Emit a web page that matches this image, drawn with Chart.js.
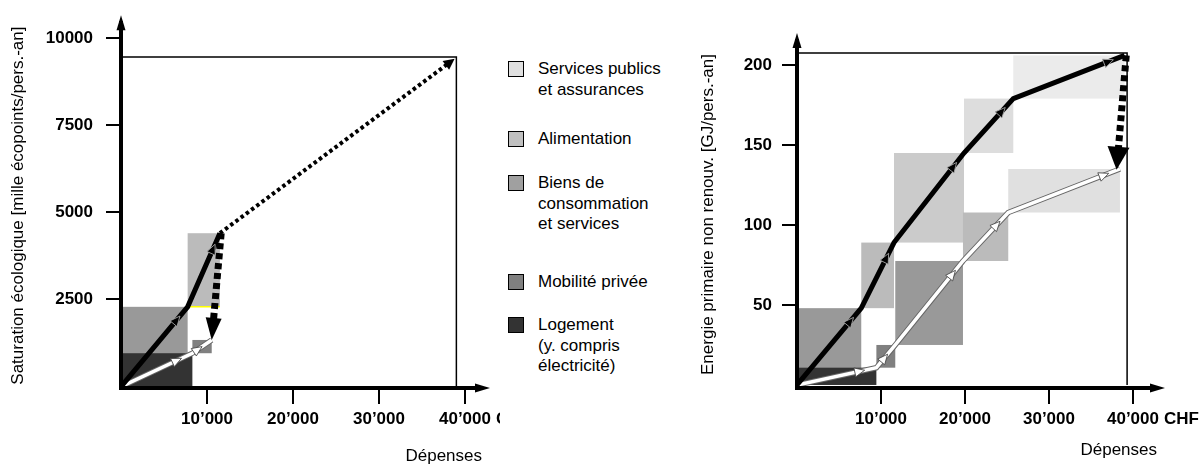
<!DOCTYPE html>
<html>
<head>
<meta charset="utf-8">
<script src="https://cdn.jsdelivr.net/npm/chart.js@4/dist/chart.umd.min.js"></script>
<style>
body { margin: 0; background: #fff; width: 1200px; height: 465px; overflow: hidden; position: relative; font-family: "Liberation Sans", Arial, sans-serif; }
canvas { position: absolute; top: 0; }
#eco-chart { left: 0; }
#energy-chart { left: 690px; }
.key { position: absolute; left: 508px; width: 16px; height: 16px; border: 1.5px solid #000; box-sizing: border-box; }
.key-label { position: absolute; left: 538px; font-size: 17px; line-height: 20.5px; color: #000; white-space: pre-line; }
</style>
</head>
<body>
<canvas id="eco-chart" width="500" height="465"></canvas>
<canvas id="energy-chart" width="510" height="465"></canvas>
<div id="legend"></div>
<script>
// legend categories, top to bottom
const categories = ["Services publics\net assurances", "Alimentation", "Biens de\nconsommation\net services", "Mobilité privée", "Logement\n(y. compris\nélectricité)"];

// shared x axis (Dépenses, CHF)
const spendTicks = [10000, 20000, 30000, 40000];
const spendTickLabels = ["10’000", "20’000", "30’000", "40’000"];

// left chart: saturation écologique
const ecoYTicks = [2500, 5000, 7500, 10000];
const ecoHighX = [0, 7750, 11500];
const ecoHighY = [0, 2290, 4400];
const ecoLowX = [0, 8300, 10550];
const ecoLowY = [0, 960, 1340];
const ecoTrendX = [11500, 38800];
const ecoTrendY = [4400, 9400];
const ecoShiftX = [11650, 10550];
const ecoShiftY = [4400, 1340];
const ecoFrameX = [0, 39000, 39000];
const ecoFrameY = [9450, 9450, 0];

// right chart: énergie primaire non renouvelable
const enYTicks = [50, 100, 150, 200];
const enHighX = [0, 7650, 11550, 19880, 25750, 39000];
const enHighY = [0, 48, 89, 145, 179, 206];
const enLowX = [0, 9450, 11700, 19760, 25150, 38450];
const enLowY = [0, 10.8, 25, 77.5, 107.8, 135];
const enShiftX = [39200, 38050];
const enShiftY = [206, 134.5];
const enFrameX = [0, 39300, 39300];
const enFrameY = [207.5, 207.5, 0];

// styles
const legendShades = ["#e0e0e0", "#c0c0c0", "#a0a0a0", "#808080", "#333333"];
const legendTops = [59, 129, 173, 272, 315];
const ecoHighShades = ["#999999", "#bbbbbb"];
const ecoLowShades = ["#333333", "#808080"];
const enHighShades = ["#999999", "#bbbbbb", "#cbcbcb", "#dddddd", "#ebebeb"];
const enLowShades = ["#333333", "#808080", "#999999", "#bbbbbb", "#e0e0e0"];

Chart.defaults.font.family = '"Liberation Sans", Arial, Helvetica, sans-serif';
Chart.defaults.font.size = 17;
Chart.defaults.color = "#000";

const legend = document.getElementById("legend");
categories.forEach((c, i) => {
    const key = document.createElement("div");
    key.className = "key";
    key.style.top = (legendTops[i] + 2) + "px";
    key.style.background = legendShades[i];
    const label = document.createElement("div");
    label.className = "key-label";
    label.style.top = legendTops[i] + "px";
    label.textContent = c;
    legend.appendChild(key);
    legend.appendChild(label);
});

const pts = (xs, ys) => xs.map((x, i) => ({ x, y: ys[i] }));

function triangle(ctx, x, y, ang, len, half, fill, stroke) {
    ctx.save();
    ctx.translate(x, y);
    ctx.rotate(ang);
    ctx.beginPath();
    ctx.moveTo(0, 0);
    ctx.lineTo(-len, -half);
    ctx.lineTo(-len, half);
    ctx.closePath();
    ctx.fillStyle = fill;
    ctx.fill();
    if (stroke) { ctx.strokeStyle = stroke; ctx.lineWidth = 0.8; ctx.stroke(); }
    ctx.restore();
}

// boxes under each segment, arrowheads, axis arrows, CHF unit
function decor(paths) {
    return {
        id: "decor",
        beforeDatasetsDraw(chart) {
            const { ctx, scales: { x, y } } = chart;
            paths.forEach(p => {
                for (let i = 0; i < p.xs.length - 1; i++) {
                    const x0 = x.getPixelForValue(p.xs[i]), x1 = x.getPixelForValue(p.xs[i + 1]);
                    const y0 = y.getPixelForValue(p.ys[i]), y1 = y.getPixelForValue(p.ys[i + 1]);
                    ctx.fillStyle = p.shades[i];
                    ctx.fillRect(Math.min(x0, x1), Math.min(y0, y1), Math.abs(x1 - x0), Math.abs(y1 - y0));
                }
            });
        },
        beforeDatasetDraw(chart, args) {
            const ds = chart.data.datasets[args.index];
            if (!ds.endArrow) return;
            const d = args.meta.data, a = d[d.length - 2], b = d[d.length - 1];
            const ang = Math.atan2(b.y - a.y, b.x - a.x);
            const { ctx, width, height } = chart;
            ctx.save();
            ctx.beginPath();
            ctx.rect(0, 0, width, height);
            ctx.save();
            ctx.translate(b.x, b.y);
            ctx.rotate(ang);
            ctx.rect(-ds.endArrow.len + 1, -ds.endArrow.half - 6, ds.endArrow.len + 10, 2 * ds.endArrow.half + 12);
            ctx.restore();
            ctx.clip("evenodd");
        },
        afterDatasetDraw(chart, args) {
            const ds = chart.data.datasets[args.index];
            const ctx = chart.ctx, d = args.meta.data;
            if (ds.endArrow) {
                ctx.restore();
                const a = d[d.length - 2], b = d[d.length - 1];
                triangle(ctx, b.x, b.y, Math.atan2(b.y - a.y, b.x - a.x), ds.endArrow.len, ds.endArrow.half, "#000");
            }
            if (ds.midArrows) {
                for (let i = 0; i < d.length - 1; i++) {
                    const a = d[i], b = d[i + 1];
                    const len = Math.hypot(b.x - a.x, b.y - a.y);
                    const ang = Math.atan2(b.y - a.y, b.x - a.x);
                    const t = Math.max(0.5, (len - 12) / len);
                    triangle(ctx, a.x + (b.x - a.x) * t, a.y + (b.y - a.y) * t, ang, 10, 4.5, ds.midArrows.fill, ds.midArrows.stroke);
                }
            }
        },
        afterDraw(chart) {
            const { ctx, chartArea: area, scales: { x } } = chart;
            triangle(ctx, area.left, area.top - 8, -Math.PI / 2, 15, 4.5, "#000");
            triangle(ctx, area.right + 8, area.bottom, 0, 15, 4.5, "#000");
            const tickFont = "bold 17px " + Chart.defaults.font.family;
            ctx.save();
            ctx.font = tickFont;
            ctx.fillStyle = "#000";
            ctx.textBaseline = "middle";
            const last = spendTicks.length - 1;
            const w = ctx.measureText(spendTickLabels[last]).width;
            ctx.fillText("CHF", x.getPixelForValue(spendTicks[last]) + w / 2 + 5, area.bottom + 16 + 5 + 10.2);
            ctx.restore();
        }
    };
}

function makeChart(id, opt) {
    const datasets = [
        { data: pts(opt.lowX, opt.lowY), borderColor: "#fff", borderWidth: 3.5, order: 1, midArrows: { fill: "#fff", stroke: "#444" } },
        { data: pts(opt.lowX, opt.lowY), borderColor: "#666", borderWidth: 5.5, order: 2 },
        { data: pts(opt.highX, opt.highY), borderColor: "#000", borderWidth: 5, order: 0, midArrows: { fill: "#000", stroke: "#aaa" } },
        { data: pts(opt.shiftX, opt.shiftY), borderColor: "#000", borderWidth: 7, borderDash: [6, 4], order: 0, endArrow: opt.shiftArrow },
        { data: pts(opt.frameX, opt.frameY), borderColor: "#000", borderWidth: 1.5, order: 5 }
    ].concat(opt.extra || []);
    return new Chart(document.getElementById(id), {
        type: "scatter",
        data: { datasets: datasets.map(d => Object.assign({ showLine: true, pointRadius: 0, fill: false, tension: 0 }, d)) },
        options: {
            responsive: false,
            animation: false,
            layout: { padding: opt.padding },
            plugins: { legend: { display: false }, tooltip: { enabled: false } },
            scales: {
                x: {
                    type: "linear", min: 0, max: opt.xMax,
                    afterFit: s => { s.height = 77; },
                    afterBuildTicks: s => { s.ticks = spendTicks.map(v => ({ value: v })); },
                    ticks: { autoSkip: false, maxRotation: 0, padding: 5, font: { weight: "bold" }, callback: (v, i) => spendTickLabels[i] },
                    grid: { drawOnChartArea: false, drawTicks: true, tickLength: 16, lineWidth: 2, color: "#000" },
                    border: { display: true, width: 4, color: "#000", z: 1 },
                    title: { display: true, text: "Dépenses", align: "end", font: { lineHeight: 1 }, padding: { top: 0, bottom: opt.titleBottom } }
                },
                y: {
                    type: "linear", min: opt.yMin, max: opt.yMax,
                    afterFit: s => { s.width = opt.yWidth; },
                    afterBuildTicks: s => { s.ticks = opt.yTicks.map(v => ({ value: v })); },
                    ticks: { autoSkip: false, padding: opt.yPad, font: { weight: "bold" }, callback: v => String(v) },
                    grid: { drawOnChartArea: false, drawTicks: true, tickLength: 15, lineWidth: 2, color: "#000" },
                    border: { display: true, width: 4, color: "#000", z: 1 },
                    title: { display: true, text: opt.yTitle, padding: { top: 8, bottom: 0 } }
                }
            }
        },
        plugins: [decor([
            { xs: opt.highX, ys: opt.highY, shades: opt.highShades },
            { xs: opt.lowX, ys: opt.lowY, shades: opt.lowShades }
        ])]
    });
}

makeChart("eco-chart", {
    highX: ecoHighX, highY: ecoHighY, lowX: ecoLowX, lowY: ecoLowY,
    shiftX: ecoShiftX, shiftY: ecoShiftY, frameX: ecoFrameX, frameY: ecoFrameY,
    highShades: ecoHighShades, lowShades: ecoLowShades,
    shiftArrow: { len: 22, half: 8 },
    extra: [
        { data: pts(ecoTrendX, ecoTrendY), borderColor: "#000", borderWidth: 4, borderDash: [3.5, 3], order: 0, endArrow: { len: 11, half: 5.5 } },
        { data: [{ x: ecoHighX[1], y: ecoHighY[1] }, { x: ecoHighX[2], y: ecoHighY[1] }], borderColor: "#ffff00", borderWidth: 1.5, order: 3 }
    ],
    xMax: 41980, yMin: -37, yMax: 10420, yTicks: ecoYTicks, yWidth: 121, yPad: 13,
    padding: { top: 21, right: 18, left: 0, bottom: 0 }, titleBottom: 0,
    yTitle: "Saturation écologique [mille écopoints/pers.-an]"
});

makeChart("energy-chart", {
    highX: enHighX, highY: enHighY, lowX: enLowX, lowY: enLowY,
    shiftX: enShiftX, shiftY: enShiftY, frameX: enFrameX, frameY: enFrameY,
    highShades: enHighShades, lowShades: enLowShades,
    shiftArrow: { len: 23, half: 11 },
    xMax: 42860, yMin: -1.9, yMax: 215, yTicks: enYTicks, yWidth: 107, yPad: 10,
    padding: { top: 41, right: 43, left: 0, bottom: 0 }, titleBottom: 6,
    yTitle: "Energie primaire non renouv. [GJ/pers.-an]"
});
</script>
</body>
</html>
